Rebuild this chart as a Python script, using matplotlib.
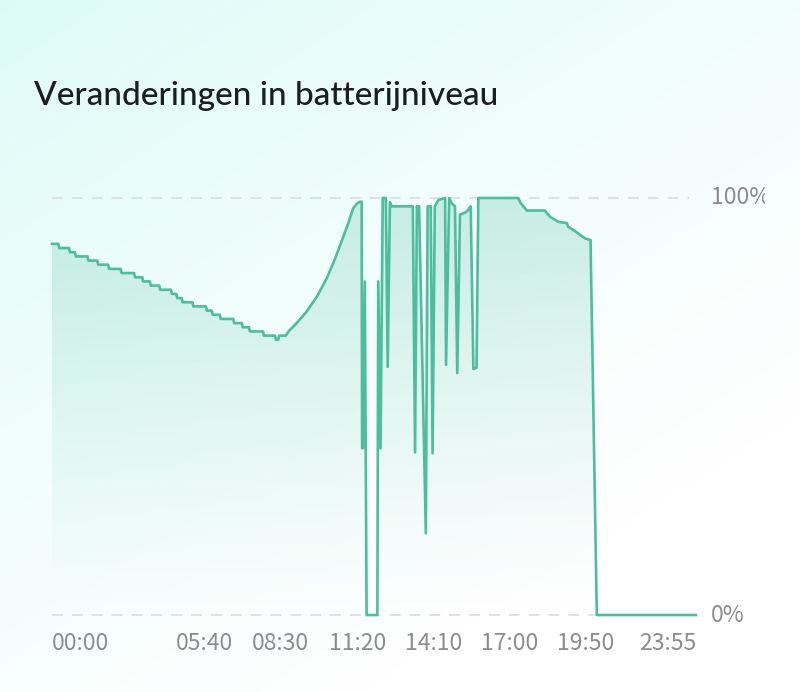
import numpy as np
import matplotlib
matplotlib.use("Agg")
import matplotlib.pyplot as plt
from matplotlib.patches import Polygon
from matplotlib.transforms import Bbox

# --- data (minutes since 00:00, battery %) ---
# slow stepped discharge overnight: level v starts at minute t
step_t = [0, 16, 40, 53, 81, 103, 127, 155, 185, 203, 220, 241, 267,
          279, 291, 315, 345, 358, 376, 406, 425, 441, 472, 499, 506]
step_v = [89, 88, 87, 86, 85, 84, 83, 82, 81, 80, 79, 78, 77,
          76, 75, 74, 73, 72, 71, 70, 69, 68, 67, 66, 67]

# charging, plug/unplug spikes and evening discharge
rest_t = [521, 527, 545, 567, 590, 612, 631, 649, 660, 671, 679, 686, 690,
          691, 693, 697, 701, 725, 727, 732, 737, 744, 748, 753, 757,
          804, 809, 813, 818, 833, 837, 844, 848, 853, 861, 876, 878,
          885, 891, 898, 903, 909, 916, 924, 933, 939, 946, 950,
          1039, 1043, 1058, 1098, 1110, 1128, 1147, 1150, 1162, 1173,
          1176, 1188, 1200, 1214, 1435]
rest_v = [67, 68, 70, 72.7, 76.3, 80.7, 85.5, 90.7, 93.9, 97.5, 98.6, 99.1, 99.1,
          40, 40, 80, 0, 0, 80, 40, 100, 100, 59.5, 99, 98,
          98, 39, 98, 98, 19.6, 98, 98, 38.8, 98, 99.5, 100, 60,
          100, 98.7, 98, 58, 96, 96.3, 96.7, 98, 59, 59.3, 100,
          100, 99, 97, 97, 95.5, 94.3, 94, 93.1, 92.3, 91.5,
          91.2, 90.3, 89.9, 0, 0]

tick_min = [0, 340, 510, 680, 850, 1020, 1190, 1435]
tick_lab = ["00:00", "05:40", "08:30", "11:20", "14:10", "17:00", "19:50", "23:55"]
title = "Veranderingen in batterijniveau"

LINE = "#4dbd9e"
GREY = "#8c8c8c"
tick_font = ["Noto Sans CJK SC", "DejaVu Sans"]

# build the polyline: short slanted transitions between the stepped levels
xs, ys = [step_t[0]], [step_v[0]]
for i in range(1, len(step_t)):
    xs += [step_t[i] - 2, step_t[i]]
    ys += [step_v[i - 1], step_v[i]]
xs += rest_t; ys += rest_v
xs = np.array(xs, float); ys = np.array(ys, float)

fig = plt.figure(figsize=(8, 6.92), dpi=100)

# soft mint background, fading to white bottom-right
bg = fig.add_axes([0, 0, 1, 1], zorder=-10)
yy, xx = np.mgrid[0:1:200j, 0:1:200j]
t = np.clip(0.75 * yy + 0.55 * xx, 0, 1) ** 0.8
c0 = np.array([220, 251, 247]) / 255; c1 = np.array([1.0, 1.0, 1.0])
img = c0[None, None, :] * (1 - t[..., None]) + c1[None, None, :] * t[..., None]
bg.imshow(img, extent=[0, 1, 0, 1], aspect="auto", origin="upper")
bg.set_axis_off()

ax = fig.add_axes([0.065, 0.1052, 0.805, 0.6147])
ax.patch.set_alpha(0)
ax.set_xlim(0, 1435); ax.set_ylim(-1, 101)

# gradient fill under the curve
grad = np.zeros((256, 1, 4))
grad[..., 0], grad[..., 1], grad[..., 2] = 80 / 255, 190 / 255, 160 / 255
grad[:, 0, 3] = np.linspace(0.0, 0.33, 256) ** 1.2
im = ax.imshow(grad, extent=[0, 1435, 0, 100], aspect="auto", origin="lower", zorder=1)
poly = Polygon(np.column_stack([np.r_[xs, xs[-1], xs[0]], np.r_[ys, 0, 0]]),
               closed=True, facecolor="none", edgecolor="none", transform=ax.transData)
ax.add_patch(poly)
im.set_clip_path(poly)

for lev in (0, 100):
    ax.plot([0, 1420], [lev, lev], color="#dcdfdf", lw=1.3, dashes=(6, 5), zorder=2)
ax.plot(xs, ys, color=LINE, lw=1.9, zorder=3, solid_joinstyle="round", clip_on=False)

for s in ax.spines.values(): s.set_visible(False)
ax.set_yticks([])
ax.set_xticks(tick_min, tick_lab)
ax.tick_params(axis="x", length=0, pad=9, labelcolor=GREY)
for lab in ax.get_xticklabels():
    lab.set_family(tick_font); lab.set_fontsize(16.5)
ax.get_xticklabels()[0].set_ha("left")
ax.get_xticklabels()[-1].set_ha("right")

for lev, txt in ((100, "100%"), (0, "0%")):
    tx = ax.text(1.0233, lev, txt, transform=ax.get_yaxis_transform(), ha="left", va="center",
                 fontsize=16.5, color=GREY, family=tick_font)
    tx.set_clip_box(Bbox.from_extents(0, 0, 765, 692)); tx.set_clip_on(True)

fig.text(34 / 800, 1 - 105 / 692, title, fontsize=24, fontweight="medium",
         family=["Lato", "DejaVu Sans"], color="#1b1d1f", va="baseline", ha="left")

fig.savefig("out.png", dpi=100)
